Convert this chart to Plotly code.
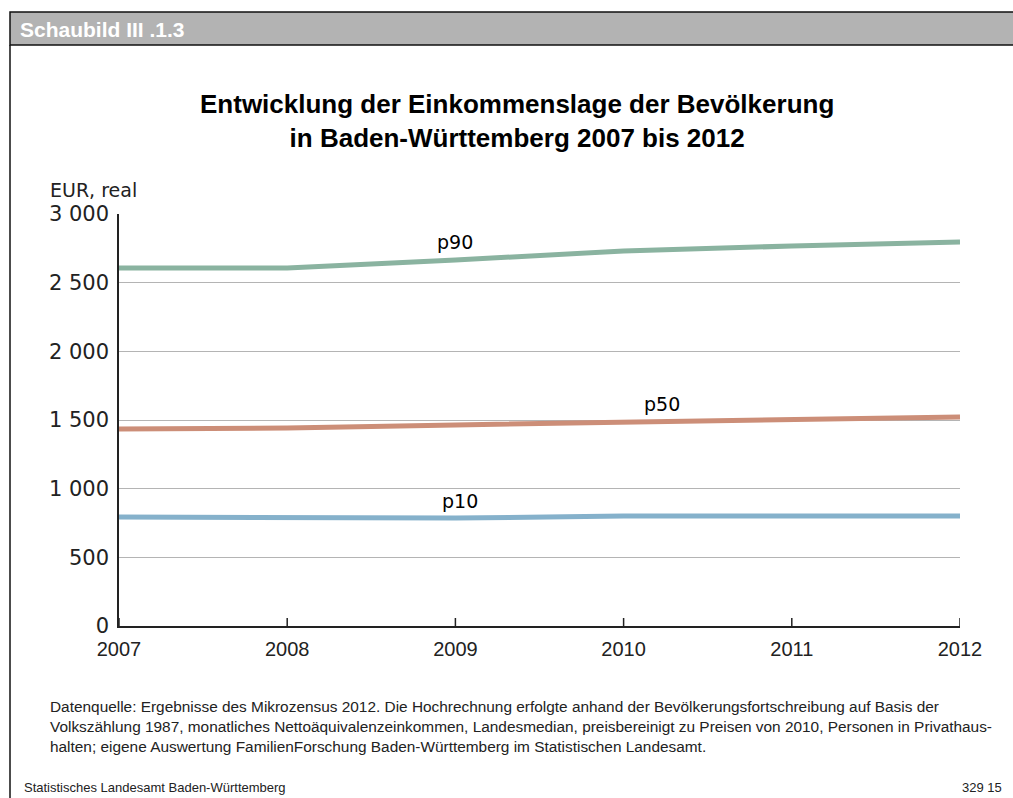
import plotly.graph_objects as go

years = [2007, 2008, 2009, 2010, 2011, 2012]
p90 = [2607, 2607, 2665, 2731, 2767, 2796]
p50 = [1434, 1442, 1464, 1485, 1507, 1522]
p10 = [794, 794, 786, 801, 801, 801]
series_names = ["p90", "p50", "p10"]
series_colors = ["#8ab3a0", "#cc8e78", "#85b1cb"]
y_tickvals = [0, 500, 1000, 1500, 2000, 2500, 3000]
y_ticktext = ["0", "500", "1 000", "1 500", "2 000", "2 500", "3 000"]

W, H = 1013, 798
L, R, T, B = 119, 960, 214, 626

def px(x):
    return (x - L) / (R - L)

def py(y):
    return (B - y) / (B - T)

fig = go.Figure()
for name, vals, col in zip(series_names, [p90, p50, p10], series_colors):
    fig.add_trace(go.Scatter(x=years, y=vals, mode="lines", name=name,
                             line=dict(color=col, width=5), showlegend=False))

FONT = "Liberation Sans, Arial, sans-serif"
WIDE = "DejaVu Sans, Verdana, sans-serif"

annotations = [
    dict(x=2009.0, y=2796, text="p90", showarrow=False, font=dict(size=19, color="#000", family=WIDE)),
    dict(x=2010.23, y=1617, text="p50", showarrow=False, font=dict(size=19, color="#000", family=WIDE)),
    dict(x=2009.03, y=910, text="p10", showarrow=False, font=dict(size=19, color="#000", family=WIDE)),
    dict(xref="paper", yref="paper", x=px(18), y=py(29), xanchor="left", yanchor="middle",
         text="<b>Schaubild III .1.3</b>", showarrow=False, font=dict(size=21, color="white", family=FONT)),
    dict(xref="paper", yref="paper", x=px(517), y=py(121), xanchor="center", yanchor="middle",
         text="<b>Entwicklung der Einkommenslage der Bevölkerung<br>in Baden-Württemberg 2007 bis 2012</b>",
         showarrow=False, font=dict(size=26, color="#000", family=FONT)),
    dict(xref="paper", yref="paper", x=px(48), y=py(190), xanchor="left", yanchor="middle",
         text="EUR, real", showarrow=False, font=dict(size=19, color="#222", family=WIDE)),
    dict(xref="paper", yref="paper", x=px(48), y=py(726), xanchor="left", yanchor="middle", align="left",
         text="Datenquelle: Ergebnisse des Mikrozensus 2012. Die Hochrechnung erfolgte anhand der Bevölkerungsfortschreibung auf Basis der<br>"
              "Volkszählung 1987, monatliches Nettoäquivalenzeinkommen, Landesmedian, preisbereinigt zu Preisen von 2010, Personen in Privathaus-<br>"
              "halten; eigene Auswertung FamilienForschung Baden-Württemberg im Statistischen Landesamt.",
         showarrow=False, font=dict(size=15.4, color="#222", family=FONT)),
    dict(xref="paper", yref="paper", x=px(22), y=py(787), xanchor="left", yanchor="middle",
         text="Statistisches Landesamt Baden-Württemberg", showarrow=False,
         font=dict(size=13, color="#222", family=FONT)),
    dict(xref="paper", yref="paper", x=px(1004), y=py(787), xanchor="right", yanchor="middle",
         text="329 15", showarrow=False, font=dict(size=13, color="#222", family=FONT)),
]

shapes = [
    dict(type="rect", xref="paper", yref="paper", x0=px(10), x1=px(1020), y0=py(45), y1=py(12),
         fillcolor="#b3b3b3", line=dict(color="#111", width=1.5), layer="below"),
    dict(type="line", xref="paper", yref="paper", x0=px(10), x1=px(10), y0=py(45), y1=py(800),
         line=dict(color="#111", width=1.5)),
]
# x-axis ticks pointing up
for yr in years:
    shapes.append(dict(type="line", xref="x", yref="paper", x0=yr, x1=yr, y0=0, y1=py(B - 8),
                       line=dict(color="#222", width=1.5)))

fig.update_layout(
    width=W, height=H,
    margin=dict(l=L, r=W - R, t=T, b=H - B, pad=0),
    paper_bgcolor="white", plot_bgcolor="white",
    annotations=annotations, shapes=shapes,
    xaxis=dict(range=[2007, 2012], tickvals=years, ticktext=[str(y) for y in years],
               showgrid=False, zeroline=False, showline=True, linecolor="#222", linewidth=1.5,
               ticks="", tickfont=dict(size=20, color="#222", family=FONT), ticklabelstandoff=4,
               fixedrange=True),
    yaxis=dict(range=[0, 3000], tickvals=y_tickvals, ticktext=y_ticktext,
               showgrid=True, gridcolor="#b4b4b4", gridwidth=1, zeroline=False,
               showline=True, linecolor="#222", linewidth=1.5, ticks="",
               tickfont=dict(size=21, color="#222", family=WIDE), ticklabelstandoff=4,
               fixedrange=True),
)

fig.write_html("out.html", config={"displayModeBar": False},
               post_script="document.body.style.margin='0';document.body.style.padding='0';")
